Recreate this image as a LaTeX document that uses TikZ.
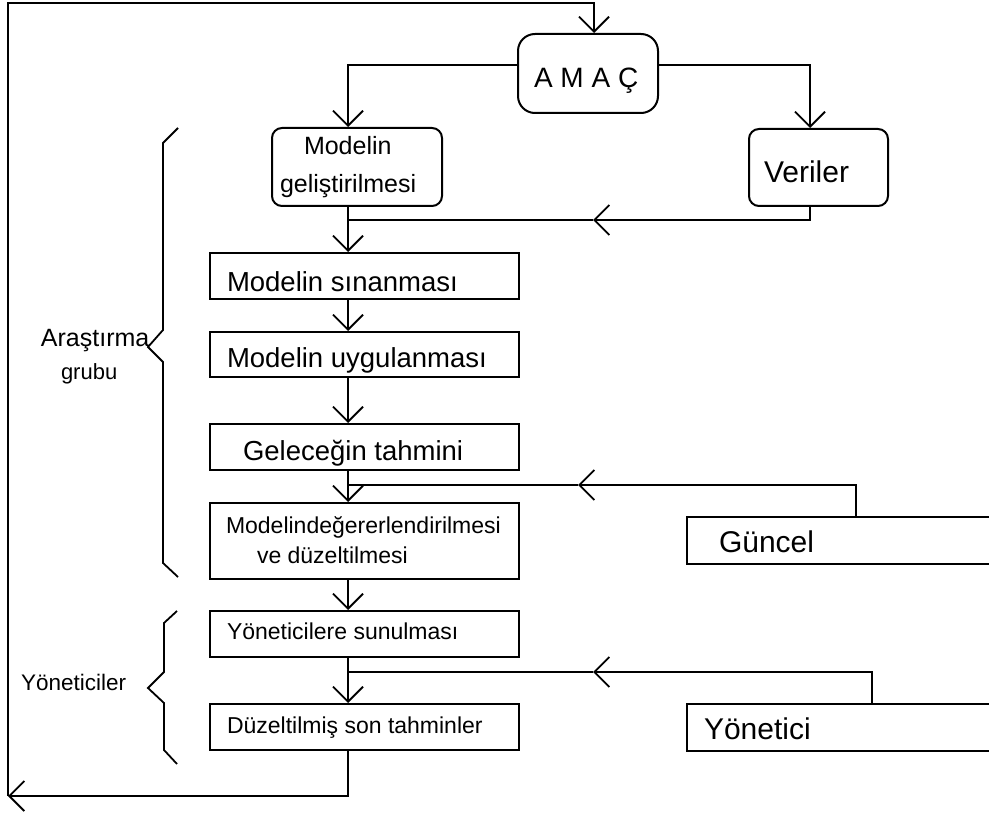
\documentclass[tikz,border=0pt]{standalone}
\usepackage{fontspec}
\setmainfont{Liberation Sans}
\usetikzlibrary{arrows.meta}
\begin{document}
\begin{tikzpicture}[x=1pt, y=-1pt,
  line width=2pt,
  box/.style={draw, line width=2pt, inner sep=0pt, anchor=north west},
  rbox/.style={box, rounded corners=10pt},
  lbl/.style={anchor=base west, inner sep=0pt, font=\fontsize{#1}{#1}\selectfont},
  arr/.style={-{Straight Barb[length=15pt, width=30pt, line width=1.8pt]}},
  conn/.style={line width=1.8pt}
]
\useasboundingbox (0,0) rectangle (989,813);
\clip (0,0) rectangle (989,813);

% reference columns / rows for connectors
\coordinate (sp) at (348,0);
\coordinate (aline) at (0,65);
\coordinate (vx) at (810,0);
\coordinate (topin) at (594,3);
\coordinate (bl) at (8,796);
\coordinate (vtip) at (593,220);
\coordinate (vjoin) at (348,220);
\coordinate (gx) at (856,0);
\coordinate (gtip) at (578,485);
\coordinate (gjoin) at (348,485);
\coordinate (yx) at (872,0);
\coordinate (ytip) at (593,672);
\coordinate (yjoin) at (348,672);

% boxes
\node[box, rounded corners=17pt, minimum width=140, minimum height=79] (amac) at (517,33) {};
\node[rbox, minimum width=170, minimum height=78] (modgel) at (271,127) {};
\node[rbox, minimum width=139, minimum height=77] (veriler) at (748,128) {};
\node[box, minimum width=309, minimum height=46] (sinan) at (209,252) {};
\node[box, minimum width=309, minimum height=45] (uygul) at (209,331) {};
\node[box, minimum width=309, minimum height=46] (gelecek) at (209,423) {};
\node[box, minimum width=309, minimum height=76] (deger) at (209,502) {};
\node[box, minimum width=309, minimum height=46] (sunul) at (209,610) {};
\node[box, minimum width=309, minimum height=46] (duzelt) at (209,703) {};
\node[box, minimum width=330, minimum height=47] (guncel) at (686,516) {};
\node[box, minimum width=330, minimum height=47] (yonet) at (686,703) {};

% texts
\node[lbl=28] (tamac) at (533,88) {A M A Ç};
\node[lbl=25] (tmod1) at (303,155) {Modelin};
\node[lbl=25] (tmod2) at (279,193) {geliştirilmesi};
\node[lbl=30] (tver) at (763,183) {Veriler};
\node[lbl=27.5] (tsin) at (226,292) {Modelin sınanması};
\node[lbl=27.5] (tuyg) at (226,367) {Modelin uygulanması};
\node[lbl=27.5] (tgel) at (242,460) {Geleceğin tahmini};
\node[lbl=23] (tdeg1) at (225,533) {Modelindeğererlendirilmesi};
\node[lbl=23] (tdeg2) at (256,563) {ve düzeltilmesi};
\node[lbl=23] (tsun) at (226,639) {Yöneticilere sunulması};
\node[lbl=23] (tduz) at (226,733) {Düzeltilmiş son tahminler};
\node[lbl=30] (tgun) at (718,552) {Güncel};
\node[lbl=30] (tyon) at (703,739) {Yönetici};
\node[lbl=25] (tara) at (40,347) {Araştırma};
\node[lbl=22] (tgru) at (60,380) {grubu};
\node[lbl=22.5] (tyoc) at (20,690) {Yöneticiler};

% group braces
\draw[conn] (178,128) -- (163,143) -- (163,330) -- (148,347) -- (163,362) -- (163,563) -- (178,577);
\draw[conn] (177,611) -- (164,623) -- (164,672) -- (148,688) -- (164,703) -- (164,750) -- (177,764);

% main flow
\draw[conn, arr] (amac.west |- aline) -| (modgel.north -| sp);
\draw[conn, arr] (amac.east |- aline) -| (veriler.north -| vx);
\draw[conn, arr] (modgel.south -| sp) -- (sinan.north -| sp);
\draw[conn, arr] (sinan.south -| sp) -- (uygul.north -| sp);
\draw[conn, arr] (uygul.south -| sp) -- (gelecek.north -| sp);
\draw[conn, arr] (gelecek.south -| sp) -- (deger.north -| sp);
\draw[conn, arr] (deger.south -| sp) -- (sunul.north -| sp);
\draw[conn, arr] (sunul.south -| sp) -- (duzelt.north -| sp);

% feedback into the main flow
\draw[conn, arr] (veriler.south -| vx) |- (vtip);
\draw[conn] (vtip) -- (vjoin);
\draw[conn, arr] (guncel.north -| gx) |- (gtip);
\draw[conn] (gtip) -- (gjoin);
\draw[conn, arr] (yonet.north -| yx) |- (ytip);
\draw[conn] (ytip) -- (yjoin);

% loop back to the goal
\draw[conn, arr] (duzelt.south -| sp) |- (bl);
\draw[conn, arr] (bl) |- (topin) -- (amac.north -| topin);
\end{tikzpicture}
\end{document}
